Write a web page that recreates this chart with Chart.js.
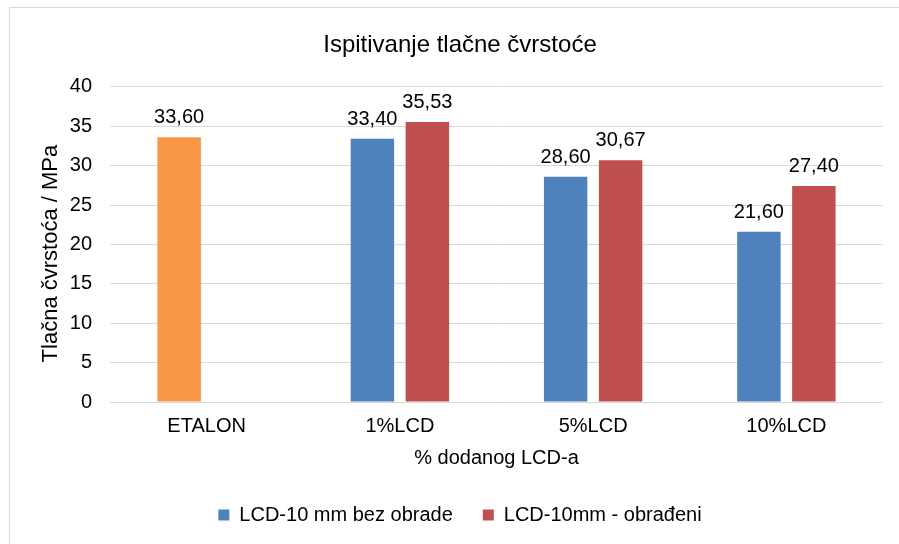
<!DOCTYPE html>
<html>
<head>
<meta charset="utf-8">
<script src="https://cdn.jsdelivr.net/npm/chart.js@4"></script>
<style>
    body { margin: 0; background: #fff; }
    #okvir { position: relative; width: 899px; height: 544px; overflow: hidden; }
    #rub { position: absolute; left: 9px; top: 7px; width: 1000px; height: 1000px; border: 1px solid #d9d9d9; }
    #graf { position: absolute; left: 0; top: 0; }
</style>
</head>
<body>
<div id="okvir">
    <div id="rub"></div>
    <canvas id="graf" width="899" height="544"></canvas>
</div>
<script>
// podaci - tlacna cvrstoca (MPa)
var kategorije = ["ETALON", "1%LCD", "5%LCD", "10%LCD"];
var bezObrade = [33.60, 33.40, 28.60, 21.60];
var obradeni = [null, 35.53, 30.67, 27.40];
var nazivi = ["LCD-10 mm bez obrade", "LCD-10mm - obrađeni"];

var plava = "#4F81BD";
var crvena = "#C0504D";
var narancasta = "#F79646";
var font = "'Liberation Sans', Arial, sans-serif";

// vrijednosti iznad stupaca, s decimalnim zarezom
var oznakeVrijednosti = {
    id: 'oznakeVrijednosti',
    afterDatasetsDraw: function(chart) {
        var ctx = chart.ctx;
        ctx.save();
        ctx.font = "20px " + font;
        ctx.fillStyle = "#000";
        ctx.textAlign = "center";
        ctx.textBaseline = "alphabetic";
        chart.data.datasets.forEach(function(ds, i) {
            var meta = chart.getDatasetMeta(i);
            meta.data.forEach(function(bar, j) {
                var v = ds.data[j];
                if (v === null || v === undefined) return;
                ctx.fillText(v.toFixed(2).replace('.', ','), bar.x, bar.y - 14);
            });
        });
        ctx.restore();
    }
};

var ctx = document.getElementById("graf").getContext("2d");
new Chart(ctx, {
    type: 'bar',
    data: {
        labels: kategorije,
        datasets: [
            {
                label: nazivi[0],
                data: bezObrade,
                backgroundColor: [narancasta, plava, plava, plava]
            }, {
                label: nazivi[1],
                data: obradeni,
                backgroundColor: crvena
            }
        ]
    },
    options: {
        responsive: false,
        animation: false,
        layout: { padding: { left: 37, right: 16, top: 20, bottom: 9 } },
        datasets: {
            bar: { categoryPercentage: 0.569, barPercentage: 0.79, skipNull: false }
        },
        plugins: {
            title: {
                display: true,
                text: "Ispitivanje tlačne čvrstoće",
                color: "#000",
                font: { family: font, size: 24, weight: 'normal' },
                padding: { top: 11, bottom: 27 }
            },
            legend: {
                position: 'bottom',
                labels: {
                    color: "#000",
                    font: { family: font, size: 20 },
                    boxWidth: 11,
                    boxHeight: 11,
                    padding: 30,
                    generateLabels: function(chart) {
                        var boje = [plava, crvena];
                        var lab = Chart.defaults.plugins.legend.labels.generateLabels(chart);
                        lab.forEach(function(l, i) {
                            l.fillStyle = boje[i];
                            l.strokeStyle = boje[i];
                            l.lineWidth = 0;
                        });
                        return lab;
                    }
                }
            },
            tooltip: { enabled: false }
        },
        scales: {
            x: {
                grid: { display: false, drawTicks: false },
                border: { display: false },
                ticks: { color: "#000", font: { family: font, size: 20 }, padding: 12 },
                title: {
                    display: true,
                    text: "% dodanog LCD-a",
                    color: "#000",
                    font: { family: font, size: 20 },
                    padding: { top: -4, bottom: 5 }
                }
            },
            y: {
                min: 0,
                max: 40,
                ticks: { stepSize: 5, color: "#000", font: { family: font, size: 20 }, padding: 18 },
                grid: { color: "#d9d9d9", lineWidth: 1, drawTicks: false },
                border: { display: false },
                title: {
                    display: true,
                    // razmaci na kraju spuštaju natpis malo niže
                    text: "Tlačna čvrstoća / MPa   ",
                    color: "#000",
                    font: { family: font, size: 22 },
                    padding: { top: 1, bottom: 0 }
                },
                afterFit: function(scale) { scale.width = 73; }
            }
        }
    },
    plugins: [oznakeVrijednosti]
});
</script>
</body>
</html>
